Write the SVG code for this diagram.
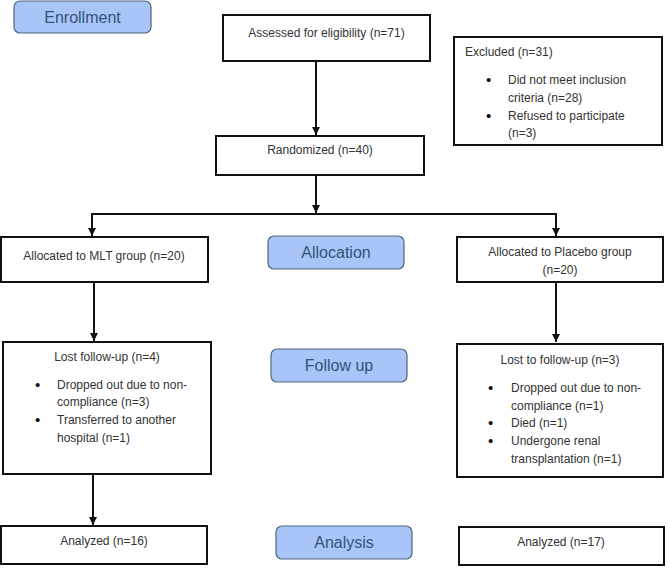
<svg xmlns="http://www.w3.org/2000/svg" width="669" height="568" viewBox="0 0 669 568">
<style>
.box{fill:#fff;stroke:#111;stroke-width:2}
.lbl{fill:#a9c5f7;stroke:#4d6680;stroke-width:1.2}
.t{font-family:"Liberation Sans",Arial,sans-serif;font-size:12px;fill:#333}
.b{font-family:"Liberation Sans",Arial,sans-serif;font-size:15px;fill:#111}
.c{text-anchor:middle}
.lt{font-family:"Liberation Sans",Arial,sans-serif;font-size:16px;fill:#2f5478;text-anchor:middle}
.ln{fill:none;stroke:#111;stroke-width:2}
</style>
<defs>
<marker id="ah" markerUnits="userSpaceOnUse" markerWidth="10" markerHeight="10" refX="8" refY="4" orient="auto">
<path d="M0,0 L8,4 L0,8 Z" fill="#111"/>
</marker>
</defs>
<rect width="669" height="568" fill="#fff"/>
<g id="connectors">
<path class="ln" d="M316,61 V135" marker-end="url(#ah)"/>
<path class="ln" d="M316,175 V213" marker-end="url(#ah)"/>
<path class="ln" d="M92,236 V214 H556 V236" />
<path class="ln" d="M92,214 V236" marker-end="url(#ah)"/>
<path class="ln" d="M556,214 V236" marker-end="url(#ah)"/>
<path class="ln" d="M94,282 V341" marker-end="url(#ah)"/>
<path class="ln" d="M556,282 V342" marker-end="url(#ah)"/>
<path class="ln" d="M93,474 V525" marker-end="url(#ah)"/>
</g>
<g id="enrollment">
<rect class="lbl" x="14" y="1" width="137" height="32" rx="6"/>
<text class="lt" x="82.5" y="23">Enrollment</text>
</g>
<g id="assessed">
<rect class="box" x="223" y="15" width="207" height="46"/>
<text class="t c" x="326.5" y="37">Assessed for eligibility (n=71)</text>
</g>
<g id="excluded">
<rect class="box" x="454" y="37" width="208" height="108"/>
<text class="t" x="465" y="56">Excluded (n=31)</text>
<text class="b" x="486" y="85">•</text>
<text class="t" x="508" y="84">Did not meet inclusion</text>
<text class="t" x="508" y="102">criteria (n=28)</text>
<text class="b" x="486" y="121">•</text>
<text class="t" x="508" y="120">Refused to participate</text>
<text class="t" x="508" y="137">(n=3)</text>
</g>
<g id="randomized">
<rect class="box" x="216" y="136" width="208" height="39"/>
<text class="t c" x="320" y="154">Randomized (n=40)</text>
</g>
<g id="allocation">
<rect class="lbl" x="268" y="236" width="136" height="33" rx="6"/>
<text class="lt" x="336" y="258">Allocation</text>
</g>
<g id="mlt">
<rect class="box" x="1" y="237" width="207" height="45"/>
<text class="t c" x="104" y="260">Allocated to MLT group (n=20)</text>
</g>
<g id="placebo">
<rect class="box" x="457" y="237" width="206" height="45"/>
<text class="t c" x="560" y="256">Allocated to Placebo group</text>
<text class="t c" x="560" y="274">(n=20)</text>
</g>
<g id="followup">
<rect class="lbl" x="271" y="349" width="136" height="33" rx="6"/>
<text class="lt" x="339" y="371">Follow up</text>
</g>
<g id="lost-mlt">
<rect class="box" x="3" y="342" width="208" height="132"/>
<text class="t c" x="107" y="361">Lost follow-up (n=4)</text>
<text class="b" x="35" y="390">•</text>
<text class="t" x="57" y="389">Dropped out due to non-</text>
<text class="t" x="57" y="406">compliance (n=3)</text>
<text class="b" x="35" y="425">•</text>
<text class="t" x="57" y="424">Transferred to another</text>
<text class="t" x="57" y="442">hospital (n=1)</text>
</g>
<g id="lost-placebo">
<rect class="box" x="457" y="344" width="206" height="133"/>
<text class="t c" x="560" y="364">Lost to follow-up (n=3)</text>
<text class="b" x="488" y="393">•</text>
<text class="t" x="511" y="392">Dropped out due to non-</text>
<text class="t" x="511" y="410">compliance (n=1)</text>
<text class="b" x="488" y="428">•</text>
<text class="t" x="511" y="427">Died (n=1)</text>
<text class="b" x="488" y="446">•</text>
<text class="t" x="511" y="445">Undergone renal</text>
<text class="t" x="511" y="463">transplantation (n=1)</text>
</g>
<g id="analysis">
<rect class="lbl" x="276" y="526" width="136" height="33" rx="6"/>
<text class="lt" x="344" y="548">Analysis</text>
</g>
<g id="analyzed-mlt">
<rect class="box" x="1" y="526" width="206" height="38"/>
<text class="t c" x="104" y="545">Analyzed (n=16)</text>
</g>
<g id="analyzed-placebo">
<rect class="box" x="459" y="527" width="205" height="38"/>
<text class="t c" x="561" y="546">Analyzed (n=17)</text>
</g>
</svg>
